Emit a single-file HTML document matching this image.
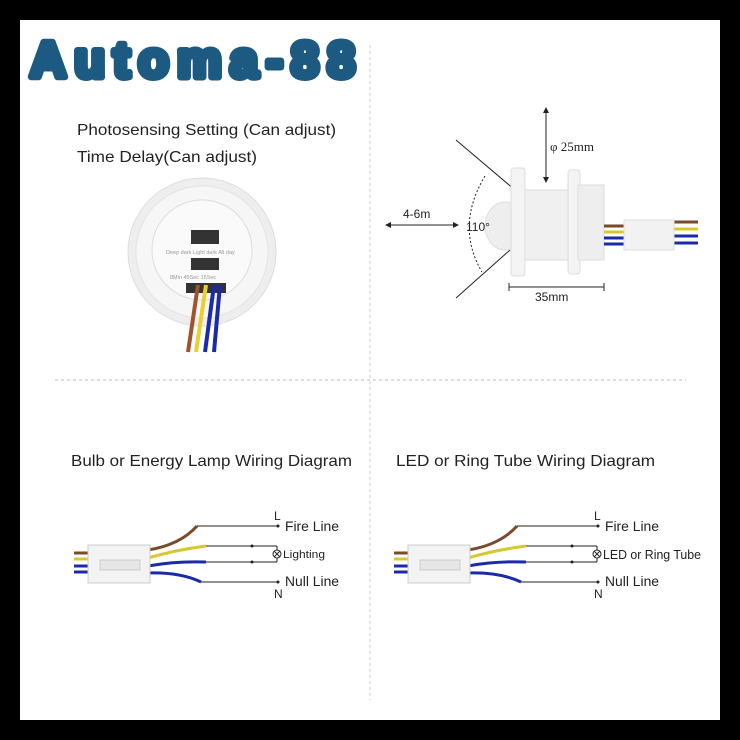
<!DOCTYPE html>
<html><head><style>
html,body{margin:0;padding:0;background:#000;}
svg{display:block;font-family:"Liberation Sans",sans-serif;}
</style></head><body>
<svg width="740" height="740" viewBox="0 0 740 740" xmlns="http://www.w3.org/2000/svg">
<rect width="740" height="740" fill="#000"/>
<rect x="20" y="20" width="700" height="700" fill="#fff"/>
<!-- logo -->
<text x="30" y="77" font-size="50" font-weight="bold" fill="#1d5a82" stroke="#1d5a82" stroke-width="7" stroke-linejoin="round" stroke-linecap="round" textLength="325" lengthAdjust="spacing" font-family="Liberation Sans,sans-serif">Automa-88</text>
<!-- dashed dividers -->
<line x1="370" y1="45" x2="370" y2="700" stroke="#ccc" stroke-dasharray="3,3"/>
<line x1="55" y1="380" x2="686" y2="380" stroke="#bbb" stroke-dasharray="3,3"/>
<!-- top left -->
<text x="77" y="135" font-size="16" fill="#222" textLength="259" lengthAdjust="spacingAndGlyphs">Photosensing Setting (Can adjust)</text>
<text x="77" y="162" font-size="16" fill="#222" textLength="180" lengthAdjust="spacingAndGlyphs">Time Delay(Can adjust)</text>
<circle cx="202" cy="252" r="74" fill="#eee" stroke="#ddd"/>
<circle cx="202" cy="252" r="66" fill="#f6f6f6" stroke="#e4e4e4"/>
<circle cx="202" cy="250" r="50" fill="#fafafa" stroke="#ddd"/>
<rect x="191" y="230" width="28" height="14" fill="#333"/>
<rect x="191" y="258" width="28" height="12" fill="#333"/>
<text x="166" y="254" font-size="5.5" fill="#999">Deep dark Light dark All day</text>
<text x="170" y="279" font-size="5.5" fill="#999">8Min 45Sec 15Sec</text>
<rect x="186" y="283" width="40" height="10" fill="#333"/>
<path d="M198 285 L188 352" stroke="#a0522d" stroke-width="4"/>
<path d="M206 285 L196 352" stroke="#e8d030" stroke-width="4"/>
<path d="M214 285 L205 352" stroke="#1a2aa8" stroke-width="4"/>
<path d="M220 285 L214 352" stroke="#1a2aa8" stroke-width="4"/>
<!-- top right -->
<g stroke="#222" fill="none" stroke-width="1">
<line x1="456" y1="140" x2="515" y2="190"/>
<line x1="456" y1="298" x2="510" y2="250"/>
<path d="M485 176 Q455 226 482 272" stroke-dasharray="2,2"/>
<line x1="388" y1="225" x2="456" y2="225"/>
<line x1="546" y1="110" x2="546" y2="180"/>
<line x1="509" y1="287" x2="604" y2="287"/>
<line x1="509" y1="283" x2="509" y2="291"/><line x1="604" y1="283" x2="604" y2="291"/>
</g>
<path d="M385 225 l6 -3 v6z M459 225 l-6 -3 v6z M546 107 l-3 6 h6z M546 183 l-3 -6 h6z" fill="#222"/>
<ellipse cx="505" cy="226" rx="20" ry="24" fill="#eee" stroke="#ddd"/>
<rect x="511" y="168" width="14" height="108" rx="3" fill="#f4f4f4" stroke="#ddd"/>
<rect x="525" y="190" width="50" height="70" fill="#f0f0f0" stroke="#ddd"/>
<rect x="568" y="170" width="12" height="104" rx="3" fill="#f4f4f4" stroke="#ddd"/>
<rect x="578" y="185" width="26" height="75" fill="#eee" stroke="#ddd"/>
<text x="403" y="218" font-size="12" fill="#222">4-6m</text>
<text x="466" y="231" font-size="12" fill="#222">110°</text>
<text x="550" y="151" font-size="13" fill="#222" font-family="Liberation Serif,serif">φ 25mm</text>
<text x="535" y="301" font-size="12" fill="#222">35mm</text>
<g stroke-width="3"><line x1="604" y1="226" x2="626" y2="226" stroke="#7a4a2a"/><line x1="604" y1="232" x2="626" y2="232" stroke="#d8c830"/><line x1="604" y1="238" x2="626" y2="238" stroke="#1a2aa8"/><line x1="604" y1="244" x2="626" y2="244" stroke="#1a2aa8"/>
<line x1="672" y1="222" x2="698" y2="222" stroke="#7a4a2a"/><line x1="672" y1="229" x2="698" y2="229" stroke="#d8c830"/><line x1="672" y1="236" x2="698" y2="236" stroke="#1a2aa8"/><line x1="672" y1="243" x2="698" y2="243" stroke="#1a2aa8"/></g>
<rect x="624" y="220" width="50" height="30" fill="#f2f2f2" stroke="#ddd"/>
<!-- wiring diagrams -->
<text x="71" y="466" font-size="16" fill="#222" textLength="281" lengthAdjust="spacingAndGlyphs">Bulb or Energy Lamp Wiring Diagram</text>
<text x="396" y="466" font-size="16" fill="#222" textLength="259" lengthAdjust="spacingAndGlyphs">LED or Ring Tube Wiring Diagram</text>
<g id="wd">
<g stroke-width="3" fill="none">
<line x1="74" y1="553" x2="90" y2="553" stroke="#7a4a2a"/><line x1="74" y1="559" x2="90" y2="559" stroke="#d8c830"/><line x1="74" y1="566" x2="90" y2="566" stroke="#1a2aa8"/><line x1="74" y1="572" x2="90" y2="572" stroke="#1a2aa8"/>
<path d="M148 550 Q180 545 197 526" stroke="#7a4a2a"/>
<path d="M148 558 Q175 550 206 546" stroke="#d8c830"/>
<path d="M148 566 Q175 561 206 562" stroke="#1a2aa8"/>
<path d="M148 573 Q180 572 201 582" stroke="#1a2aa8"/>
</g>
<rect x="88" y="545" width="62" height="38" fill="#f3f3f3" stroke="#ccc"/>
<rect x="100" y="560" width="40" height="10" fill="#e6e6e6" stroke="#ccc"/>
<g stroke="#222" stroke-width="1" fill="none">
<line x1="197" y1="526" x2="278" y2="526"/>
<line x1="206" y1="546" x2="277" y2="546"/>
<line x1="206" y1="562" x2="277" y2="562"/>
<line x1="201" y1="582" x2="278" y2="582"/>
<line x1="277" y1="546" x2="277" y2="550"/><line x1="277" y1="558" x2="277" y2="562"/>
<circle cx="277" cy="554" r="4"/>
<path d="M274 551 l6 6 M280 551 l-6 6"/>
</g>
<g fill="#222"><circle cx="278" cy="526" r="1.5"/><circle cx="278" cy="582" r="1.5"/><circle cx="252" cy="546" r="1.5"/><circle cx="252" cy="562" r="1.5"/></g>
<text x="274" y="520" font-size="12" fill="#222">L</text>
<text x="274" y="598" font-size="12" fill="#222">N</text>
<text x="285" y="531" font-size="13.5" fill="#222" textLength="54" lengthAdjust="spacingAndGlyphs">Fire Line</text>
<text x="285" y="586" font-size="13.5" fill="#222" textLength="54" lengthAdjust="spacingAndGlyphs">Null Line</text>
</g>
<text x="283" y="558" font-size="11" fill="#222" textLength="42" lengthAdjust="spacingAndGlyphs">Lighting</text>
<use href="#wd" x="320" y="0"/>
<text x="603" y="559" font-size="12.5" fill="#222" textLength="98" lengthAdjust="spacingAndGlyphs">LED or Ring Tube</text>
</svg>
</body></html>
